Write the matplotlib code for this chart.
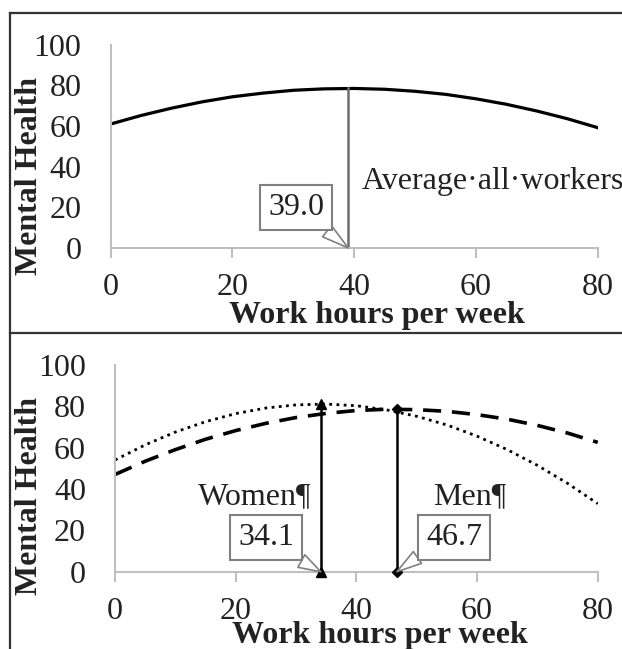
import matplotlib
matplotlib.use("Agg")
import matplotlib.pyplot as plt
from matplotlib.lines import Line2D

# hours grid (read every 5 h off the picture)
hours = [0, 5, 10, 15, 20, 25, 30, 35, 40, 45, 50, 55, 60, 65, 70, 75, 80]
mh_all = [61.0, 65.2, 68.8, 71.9, 74.4, 76.2, 77.6, 78.3, 78.5, 78.1, 77.1, 75.6, 73.4, 70.7, 67.4, 63.6, 59.2]
mh_women = [54.0, 61.3, 67.5, 72.5, 76.4, 79.1, 80.6, 81.0, 80.2, 78.2, 75.1, 70.9, 65.5, 59.0, 51.4, 42.7, 32.9]
mh_men = [47.0, 53.4, 59.0, 64.0, 68.2, 71.7, 74.5, 76.5, 77.9, 78.5, 78.3, 77.5, 75.9, 73.7, 70.7, 67.0, 62.5]

peak_all = (39.0, 78.5)
peak_women = (34.1, 81.0)
peak_men = (46.7, 78.5)

xticks = [0, 20, 40, 60, 80]
yticks = [0, 20, 40, 60, 80, 100]

plt.rcParams['font.family'] = ['Liberation Serif', 'DejaVu Serif']
FS = 23
TXT = '#222222'
AX = '#bfbfbf'

fig = plt.figure(figsize=(6.22, 6.49), dpi=100)


def style_axes(ax, lab_y, xlab_x, xlab_y):
    ax.set_xlim(0, 80)
    ax.set_ylim(0, 100)
    ax.set_xticks(xticks)
    ax.set_yticks(yticks)
    for s in ['top', 'right']:
        ax.spines[s].set_visible(False)
    for s in ['left', 'bottom']:
        ax.spines[s].set_color(AX)
        ax.spines[s].set_linewidth(1.5)
    ax.tick_params(axis='x', length=7, width=1.5, color=AX, pad=11,
                   labelsize=FS, labelcolor=TXT)
    ax.tick_params(axis='y', length=0, pad=21, labelsize=FS, labelcolor=TXT)
    ax.set_ylabel('Mental Health', fontsize=FS, fontweight='bold', color=TXT)
    ax.yaxis.set_label_coords(lab_y[0], lab_y[1])
    ax.set_xlabel('Work hours per week', fontsize=FS, fontweight='bold', color=TXT)
    ax.xaxis.set_label_coords(xlab_x, xlab_y)


def callout(ax, text, xy, xytext, relpos):
    ax.annotate(text, xy=xy, xytext=xytext, ha='center', va='center',
                fontsize=FS, color=TXT, zorder=5,
                bbox=dict(boxstyle='square,pad=0.25', fc='white', ec='#808080', lw=1.5),
                arrowprops=dict(arrowstyle='wedge,tail_width=0.45,shrink_factor=0.5',
                                fc='white', ec='#808080', lw=1.2,
                                relpos=relpos, shrinkA=0, shrinkB=0))


# top panel: all workers
ax1 = fig.add_axes([0.178, 0.618, 0.783, 0.313])
ax1.plot(hours, mh_all, color='black', lw=2.3)
ax1.plot([peak_all[0], peak_all[0]], [0, peak_all[1]], color='#6e6e6e', lw=1.8)
callout(ax1, '39.0', (peak_all[0], 0), (30.5, 19.7), (0.85, 0.0))
ax1.text(41.2, 32.5, 'Average·all·workers¶', fontsize=FS, color=TXT,
         ha='left', va='center', clip_on=False)
style_axes(ax1, (-0.138, 0.355), 0.546, -0.262)

# bottom panel: women vs men
ax2 = fig.add_axes([0.185, 0.119, 0.776, 0.319])
ax2.plot(hours, mh_women, color='black', lw=2.0, linestyle=(0, (1, 1.6)))
ax2.plot(hours, mh_men, color='black', lw=2.6, linestyle=(0, (5, 3)))
ax2.plot([peak_women[0], peak_women[0]], [0, peak_women[1]], color='black', lw=1.8,
         marker='^', markersize=7, clip_on=False, zorder=4)
ax2.plot([peak_men[0], peak_men[0]], [0, peak_men[1]], color='black', lw=1.8,
         marker='D', markersize=5, clip_on=False, zorder=4)
ax2.text(23.2, 36.2, 'Women¶', fontsize=FS, color=TXT, ha='center', va='center')
ax2.text(58.7, 36.2, 'Men¶', fontsize=FS, color=TXT, ha='center', va='center')
callout(ax2, '34.1', (peak_women[0], 0), (25.0, 16.4), (0.85, 0.0))
callout(ax2, '46.7', (peak_men[0], 0), (56.2, 16.4), (0.05, 0.1))
style_axes(ax2, (-0.147, 0.367), 0.548, -0.236)

# outer frame like the original document table
frame = dict(color='#333333', lw=1.6, transform=fig.transFigure)
fig.add_artist(Line2D([0.016, 0.016], [0.0, 0.98], **frame))
fig.add_artist(Line2D([0.016, 1.0], [0.98, 0.98], **frame))
fig.add_artist(Line2D([0.016, 1.0], [0.487, 0.487], **frame))

fig.savefig('out.png', dpi=100)
